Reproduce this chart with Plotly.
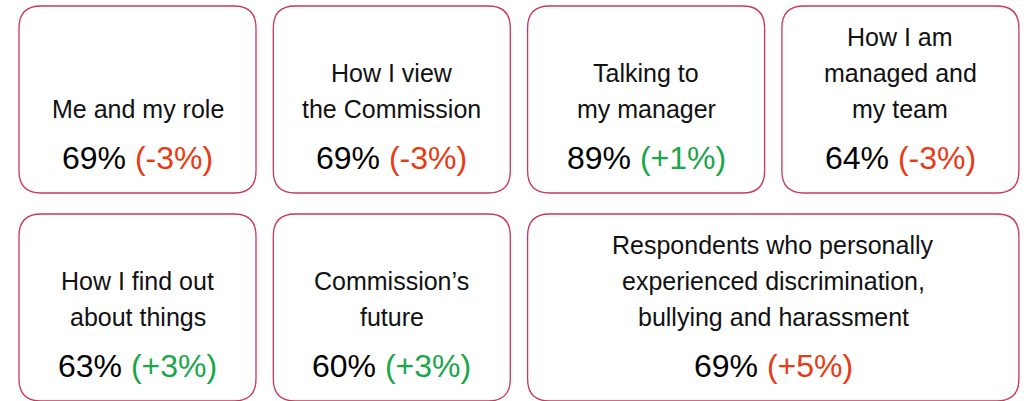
import plotly.graph_objects as go

titles = [
    "Me and my role",
    "How I view<br>the Commission",
    "Talking to<br>my manager",
    "How I am<br>managed and<br>my team",
    "How I find out<br>about things",
    "Commission’s<br>future",
    "Respondents who personally<br>experienced discrimination,<br>bullying and harassment",
]
scores = [69, 69, 89, 64, 63, 60, 69]
changes = [-3, -3, 1, -3, 3, 3, 5]
# whether an increase is good (green) or bad (red)
higher_is_better = [True, True, True, True, True, True, False]

# grid placement: (row, col, colspan)
grid = [(0, 0, 1), (0, 1, 1), (0, 2, 1), (0, 3, 1), (1, 0, 1), (1, 1, 1), (1, 2, 2)]

W, H = 1027, 401
X0, COLW, GAP = 19, 237, 17.3
Y0, ROWH, RGAP = 6, 187, 21
R = 22
BORDER = "#c8385a"
RED = "#e83a14"
GREEN = "#1aa64a"
FONT = "Liberation Sans, Arial, Helvetica, sans-serif"

fig = go.Figure()
shapes = []
annotations = []


def rounded(x0, y0, x1, y1, r):
    return (f"M {x0+r},{y0} L {x1-r},{y0} Q {x1},{y0} {x1},{y0+r} "
            f"L {x1},{y1-r} Q {x1},{y1} {x1-r},{y1} L {x0+r},{y1} "
            f"Q {x0},{y1} {x0},{y1-r} L {x0},{y0+r} Q {x0},{y0} {x0+r},{y0} Z")


for t, s, c, hib, (row, col, span) in zip(titles, scores, changes, higher_is_better, grid):
    x0 = X0 + col * (COLW + GAP)
    x1 = x0 + span * COLW + (span - 1) * GAP
    y0 = Y0 + row * (ROWH + RGAP)
    y1 = y0 + ROWH
    shapes.append(dict(type="path", path=rounded(x0, y0, x1, y1, R),
                       line=dict(color=BORDER, width=1.3), fillcolor="white",
                       xref="x", yref="y", layer="below"))
    cx = (x0 + x1) / 2
    vy = y0 + 152
    good = (c > 0) == hib
    color = GREEN if good else RED
    sign = "+" if c > 0 else "-"
    annotations.append(dict(
        x=cx, y=vy, xref="x", yref="y", showarrow=False,
        xanchor="center", yanchor="middle",
        text=f"{s}% <span style='color:{color}'>({sign}{abs(c)}%)</span>",
        font=dict(family=FONT, size=32, color="#000000")))
    lines = t.split("<br>")
    n = len(lines)
    for i, ln in enumerate(lines):
        ly = vy - 49 - (n - 1 - i) * 36
        annotations.append(dict(
            x=cx, y=ly, xref="x", yref="y", showarrow=False,
            xanchor="center", yanchor="middle", text=ln,
            font=dict(family=FONT, size=25, color="#111111")))

fig.update_layout(
    width=W, height=H,
    margin=dict(l=0, r=0, t=0, b=0),
    paper_bgcolor="white", plot_bgcolor="white",
    xaxis=dict(range=[0, W], visible=False, fixedrange=True),
    yaxis=dict(range=[H, 0], visible=False, fixedrange=True),
    shapes=shapes, annotations=annotations, showlegend=False,
)
fig.write_html(
    "out.html",
    config={"displayModeBar": False},
    post_script="document.body.style.margin='0';document.body.style.overflow='hidden';",
)
